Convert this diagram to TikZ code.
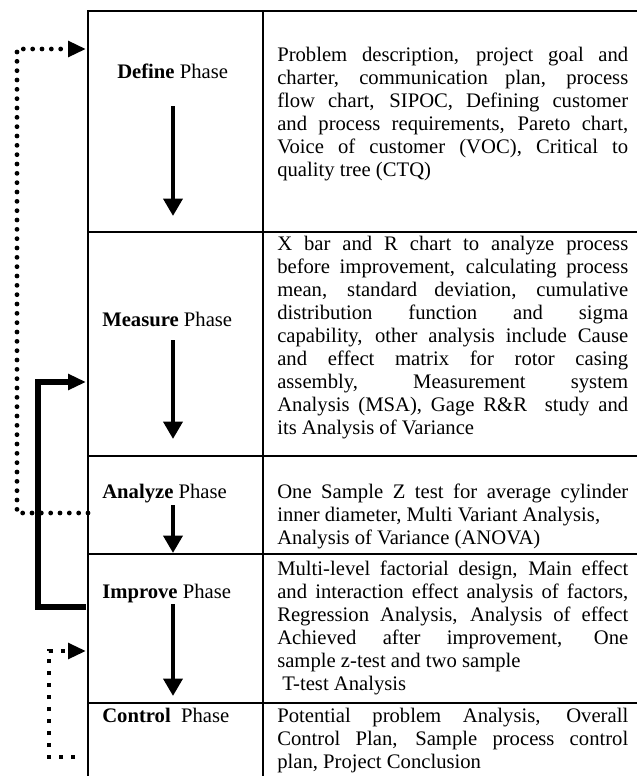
\documentclass[tikz,border=0pt]{standalone}
\usepackage{fontspec}
\setmainfont{Liberation Serif}
\usetikzlibrary{arrows.meta}
\newcommand\bodyfont{\fontsize{15.5pt}{17.25pt}\selectfont}
\newcommand\J[1]{\makebox[\linewidth][s]{#1}}
\tikzset{
  grid/.style={line width=1.6pt},
  lbl/.style={anchor=base west, inner sep=0pt, font=\bodyfont},
  varrow/.style={line width=3.6pt, -{Triangle[length=13pt,width=14pt]}},
  harrowtip/.style={-{Triangle[length=13.5pt,width=11.5pt]}},
  solidloop/.style={line width=3.8pt, harrowtip},
  rounddots/.style={line width=3.6pt, line cap=round, dash pattern=on 0pt off 7pt, harrowtip},
  squaredots/.style={line width=3.3pt, line cap=butt, dash pattern=on 3.3pt off 5.7pt, harrowtip}
}
\begin{document}
\begin{tikzpicture}[x=0.75pt,y=-0.75pt]
\useasboundingbox (0,0) rectangle (637,776);
% table grid
\draw[grid] (88,776) -- (88,11) -- (637,11);
\draw[grid] (263,11) -- (263,776);
\draw[grid] (88,232) -- (637,232);
\draw[grid] (88,456) -- (637,456);
\draw[grid] (88,554) -- (637,554);
\draw[grid] (88,703) -- (637,703);
% phase labels
\node[lbl] (defL) at (117,78) {\textbf{Define} Phase};
\node[lbl] (meaL) at (102,326) {\textbf{Measure} Phase};
\node[lbl] (anaL) at (102,498) {\textbf{Analyze} Phase};
\node[lbl] (impL) at (102,598) {\textbf{Improve} Phase};
\node[lbl] (conL) at (102,722) {\textbf{Control}\hspace{0.5em}Phase};
% vertical arrows
\coordinate (d1) at (173,106); \coordinate (d2) at (173,216);
\coordinate (m1) at (173,340); \coordinate (m2) at (173,439);
\coordinate (a1) at (173,505); \coordinate (a2) at (173,553);
\coordinate (i1) at (173,604); \coordinate (i2) at (173,696);
\draw[varrow] (d1) -- (d2);
\draw[varrow] (m1) -- (m2);
\draw[varrow] (a1) -- (a2);
\draw[varrow] (i1) -- (i2);
% texts
\node[lbl] (defT) at (277,61) {\parbox[t]{263.25pt}{\bodyfont
\J{Problem description, project goal and}\\
\J{charter, communication plan, process}\\
\J{flow chart, SIPOC, Defining customer}\\
\J{and process requirements, Pareto chart,}\\
\J{Voice of customer (VOC), Critical to}\\
quality tree (CTQ)}};
\node[lbl] (meaT) at (277,250) {\parbox[t]{263.25pt}{\bodyfont
\J{X bar and R chart to analyze process}\\
\J{before improvement, calculating process}\\
\J{mean, standard deviation, cumulative}\\
\J{distribution function and sigma}\\
\J{capability, other analysis include Cause}\\
\J{and effect matrix for rotor casing}\\
\J{assembly, Measurement system}\\
\J{Analysis (MSA), Gage R\&R\ \ study and}\\
its Analysis of Variance}};
\node[lbl] (anaT) at (277,498) {\parbox[t]{263.25pt}{\bodyfont
\J{One Sample Z test for average cylinder}\\
inner diameter, Multi Variant Analysis,\\
Analysis of Variance (ANOVA)}};
\node[lbl] (impT) at (277,575) {\parbox[t]{263.25pt}{\bodyfont
\J{Multi-level factorial design, Main effect}\\
\J{and interaction effect analysis of factors,}\\
\J{Regression Analysis, Analysis of effect}\\
\J{Achieved after improvement, One}\\
sample z-test and two sample\\
\hspace*{0.25em}T-test Analysis}};
\node[lbl] (conT) at (277,722) {\parbox[t]{263.25pt}{\bodyfont
\J{Potential problem Analysis, Overall}\\
\J{Control Plan, Sample process control}\\
plan, Project Conclusion}};
% feedback connectors
\coordinate (pa0) at (88,513); \coordinate (pa1) at (17,513);
\coordinate (pa2) at (17,49);  \coordinate (pa3) at (86,49);
\draw[rounddots] (pa0) -- (pa1) -- (pa2) -- (pa3);
\coordinate (pb0) at (86,607); \coordinate (pb1) at (38,607);
\coordinate (pb2) at (38,382); \coordinate (pb3) at (86,382);
\draw[solidloop] (pb0) -- (pb1) -- (pb2) -- (pb3);
\coordinate (pc0) at (75,757); \coordinate (pc1) at (49,757);
\coordinate (pc2) at (49,651); \coordinate (pc3) at (86,651);
\draw[squaredots] (pc0) -- (pc1) -- (pc2) -- (pc3);
\end{tikzpicture}
\end{document}
